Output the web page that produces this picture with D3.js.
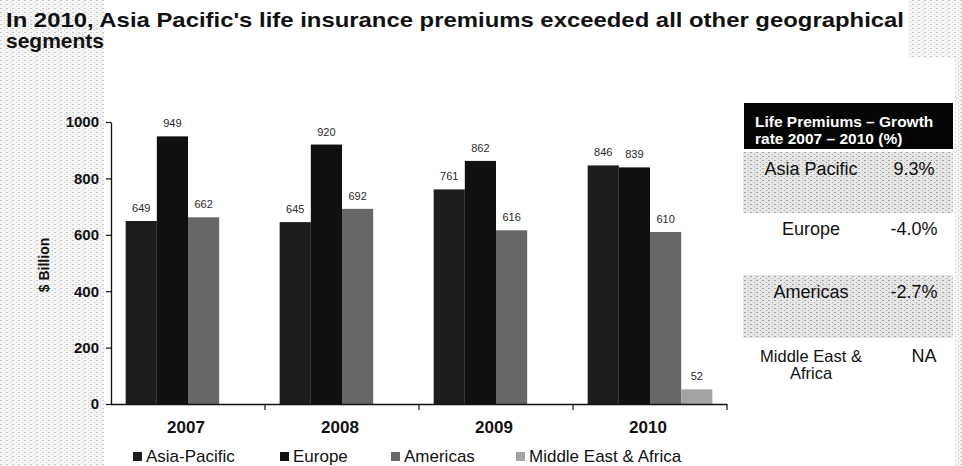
<!DOCTYPE html>
<html>
<head>
<meta charset="utf-8">
<script src="https://cdn.jsdelivr.net/npm/d3@7"></script>
<style>
  html, body { margin: 0; padding: 0; background: #ffffff; }
  svg { display: block; font-family: "Liberation Sans", Arial, sans-serif; }
</style>
</head>
<body>
<svg id="chart" width="962" height="466"></svg>
<script>
// ---- data ----
const titleLines = [
  "In 2010, Asia Pacific's life insurance premiums exceeded all other geographical",
  "segments"
];
const years = ["2007", "2008", "2009", "2010"];
const seriesNames = ["Asia-Pacific", "Europe", "Americas", "Middle East & Africa"];
const asiaPacific = [649, 645, 761, 846];
const europe = [949, 920, 862, 839];
const americas = [662, 692, 616, 610];
const middleEastAfrica = [null, null, null, 52];
const yTicks = [0, 200, 400, 600, 800, 1000];
const yLabel = "$ Billion";

const tableHeader = ["Life Premiums \u2013 Growth", "rate  2007 \u2013 2010 (%)"];
const tableRegions = [["Asia Pacific"], ["Europe"], ["Americas"], ["Middle East &", "Africa"]];
const tableGrowth = ["9.3%", "-4.0%", "-2.7%", "NA"];

const seriesValues = [asiaPacific, europe, americas, middleEastAfrica];
const seriesColors = ["#1d1d1d", "#101010", "#676767", "#a3a3a3"];

// ---- setup ----
const svg = d3.select("#chart");
const W = 962, H = 466;

// stippled paper texture for margins and shaded table rows
const defs = svg.append("defs");
function stipple(id, bg, dot) {
  const p = defs.append("pattern").attr("id", id)
    .attr("width", 6).attr("height", 4).attr("patternUnits", "userSpaceOnUse");
  p.append("rect").attr("width", 6).attr("height", 4).attr("fill", bg);
  p.append("rect").attr("x", 0).attr("y", 0).attr("width", 2).attr("height", 1).attr("fill", dot);
  p.append("rect").attr("x", 4).attr("y", 2).attr("width", 1).attr("height", 1).attr("fill", dot);
}
stipple("paper", "#f6f6f6", "#c8c8c8");
stipple("rowShade", "#e6e6e6", "#a8a8a8");

svg.append("rect").attr("width", W).attr("height", H).attr("fill", "#ffffff");
svg.append("rect").attr("x", 0).attr("y", 0).attr("width", 104).attr("height", H).attr("fill", "url(#paper)");
svg.append("rect").attr("x", 955).attr("y", 0).attr("width", 7).attr("height", H).attr("fill", "url(#paper)");
svg.append("rect").attr("x", 908).attr("y", 0).attr("width", 54).attr("height", 58).attr("fill", "url(#paper)");

// ---- title ----
const title = svg.append("text")
  .attr("font-size", 21).attr("font-weight", "bold").attr("fill", "#111");
title.append("tspan").attr("x", 6).attr("y", 27)
  .attr("textLength", 898).attr("lengthAdjust", "spacingAndGlyphs")
  .text(titleLines[0]);
title.append("tspan").attr("x", 6).attr("y", 48).text(titleLines[1]);

// ---- scales ----
const x0 = d3.scaleBand().domain(years).range([111, 727]).paddingInner(0).paddingOuter(0);
const x1 = d3.scaleBand().domain(seriesNames).range([0, x0.bandwidth()])
  .paddingInner(0).paddingOuter(0.47);
const y = d3.scaleLinear().domain([0, 1000]).range([404, 122]);

// ---- bars ----
const bars = [];
years.forEach((yr, i) => {
  seriesNames.forEach((s, j) => {
    const v = seriesValues[j][i];
    if (v != null) bars.push({ year: yr, series: s, value: v, color: seriesColors[j] });
  });
});

svg.append("g").selectAll("rect").data(bars).join("rect")
  .attr("x", d => x0(d.year) + x1(d.series))
  .attr("y", d => y(d.value))
  .attr("width", x1.bandwidth())
  .attr("height", d => y(0) - y(d.value))
  .attr("fill", d => d.color);

svg.append("g").selectAll("text").data(bars).join("text")
  .attr("x", d => x0(d.year) + x1(d.series) + x1.bandwidth() / 2)
  .attr("y", d => y(d.value) - 9)
  .attr("text-anchor", "middle")
  .attr("font-size", 11)
  .attr("fill", "#2a2a2a")
  .text(d => d.value);

// ---- axes ----
const yAxis = svg.append("g").attr("transform", "translate(111,0)")
  .call(d3.axisLeft(y).tickValues(yTicks).tickFormat(d3.format("d"))
    .tickSize(5).tickPadding(7).tickSizeOuter(0));
yAxis.select(".domain").attr("stroke", "#111").attr("stroke-width", 1.3);
yAxis.selectAll(".tick line").attr("stroke", "#111").attr("stroke-width", 1.2);
yAxis.selectAll(".tick text")
  .attr("font-size", 15).attr("font-weight", "bold").attr("fill", "#111")
  .attr("font-family", "Liberation Sans, Arial, sans-serif");

svg.append("text")
  .attr("transform", `translate(49,${(y(0) + y(1000)) / 2 + 2}) rotate(-90)`)
  .attr("text-anchor", "middle")
  .attr("font-size", 14).attr("font-weight", "bold").attr("fill", "#111")
  .text(yLabel);

// category axis: baseline plus boundary ticks between year groups
const xAxis = svg.append("g");
xAxis.append("line")
  .attr("x1", x0.range()[0]).attr("x2", x0.range()[1])
  .attr("y1", y(0) + 0.5).attr("y2", y(0) + 0.5)
  .attr("stroke", "#111").attr("stroke-width", 1.3);
const boundaries = years.slice(1).map(d => x0(d)).concat([x0.range()[1]]);
xAxis.selectAll("line.bound").data(boundaries).join("line")
  .attr("class", "bound")
  .attr("x1", d => d).attr("x2", d => d)
  .attr("y1", y(0)).attr("y2", y(0) + 6)
  .attr("stroke", "#111").attr("stroke-width", 1.2);
xAxis.selectAll("text").data(years).join("text")
  .attr("x", d => x0(d) + x0.bandwidth() / 2 - 2)
  .attr("y", 433)
  .attr("text-anchor", "middle")
  .attr("font-size", 17).attr("font-weight", "bold").attr("fill", "#111")
  .text(d => d);

// ---- legend ----
const legendX = [133, 280, 391, 516];
const legend = svg.append("g").selectAll("g").data(seriesNames).join("g")
  .attr("transform", (d, i) => `translate(${legendX[i]},0)`);
legend.append("rect")
  .attr("x", 0).attr("y", 452).attr("width", 9).attr("height", 9)
  .attr("fill", (d, i) => seriesColors[i]);
legend.append("text")
  .attr("x", 13).attr("y", 462)
  .attr("font-size", 17).attr("fill", "#111")
  .text(d => d);

// ---- growth table ----
const tX = 744, tW = 209;
const colRegion = 811, colGrowth = 914;
svg.append("rect").attr("x", tX).attr("y", 103).attr("width", tW).attr("height", 46).attr("fill", "#050505");
svg.append("text").attr("fill", "#ffffff").attr("font-size", 15.5).attr("font-weight", "bold")
  .selectAll("tspan").data(tableHeader).join("tspan")
  .attr("x", 755).attr("y", (d, i) => 127 + i * 17)
  .text(d => d);

const rowTop = [152, 213, 275, 338];
const rowH = [61, 62, 63, 60];
const rowBase = [175, 235, 298, 362];
tableRegions.forEach((r, i) => {
  if (i % 2 === 0) {
    svg.append("rect").attr("x", tX - 1).attr("y", rowTop[i])
      .attr("width", tW + 1).attr("height", rowH[i]).attr("fill", "url(#rowShade)");
  }
  const t = svg.append("text").attr("text-anchor", "middle")
    .attr("font-size", i === 3 ? 16.5 : 18).attr("fill", "#111");
  r.forEach((line, k) => {
    t.append("tspan").attr("x", colRegion).attr("y", rowBase[i] + k * 17).text(line);
  });
  svg.append("text").attr("text-anchor", "middle")
    .attr("x", i === 3 ? colGrowth + 10 : colGrowth).attr("y", rowBase[i])
    .attr("font-size", 18).attr("fill", "#111")
    .text(tableGrowth[i]);
});
</script>
</body>
</html>
